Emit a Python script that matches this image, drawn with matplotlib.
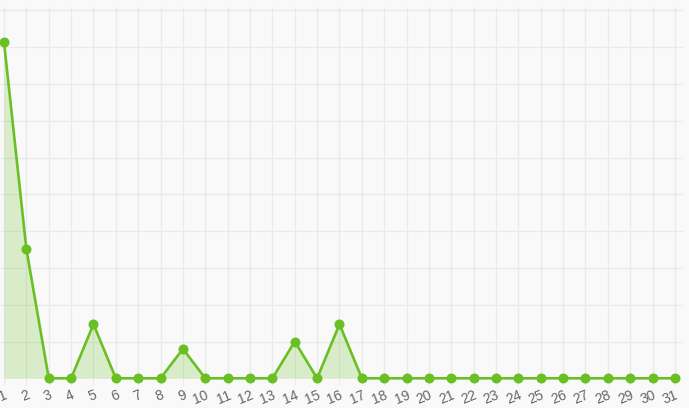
import matplotlib
matplotlib.use("Agg")
import matplotlib.pyplot as plt
import numpy as np

days = list(range(1, 32))
values = [9.13, 3.51, 0, 0, 1.47, 0, 0, 0, 0.8, 0, 0, 0, 0, 1.0, 0, 1.47,
          0, 0, 0, 0, 0, 0, 0, 0, 0, 0, 0, 0, 0, 0, 0]
y_ticks = list(range(0, 11))

W, H = 689, 408
fig = plt.figure(figsize=(W / 100, H / 100), dpi=100)
fig.patch.set_facecolor('#f9f9f9')

ax = fig.add_axes([0, (H - 378.3) / H, 683 / W, (378.3 - 7) / H])
ax.set_facecolor('#f9f9f9')

green = '#6abf23'
ax.fill_between(days, values, 0, color=green, alpha=0.22, linewidth=0)
ax.plot(days, values, color=green, lw=1.9, marker='o', ms=6.2,
        markerfacecolor=green, markeredgecolor=green, clip_on=False, zorder=3)

ax.set_xlim(0.82, 31.36)
ax.set_ylim(0, 10.09)
ax.set_xticks(days)
ax.set_xticklabels([str(d) for d in days], rotation=22, ha='right',
                   rotation_mode='anchor', color='#666666', fontsize=10,
                   family=['Liberation Sans', 'DejaVu Sans'])
ax.set_yticks(y_ticks)
ax.set_yticklabels([])
ax.grid(True, color='#eaeaea', lw=1)
ax.set_axisbelow(True)
ax.tick_params(axis='x', length=5, color='#eaeaea', pad=2)
ax.tick_params(axis='y', length=0)
for s in ax.spines.values():
    s.set_visible(False)

fig.savefig('out.png', dpi=100, facecolor=fig.get_facecolor())
